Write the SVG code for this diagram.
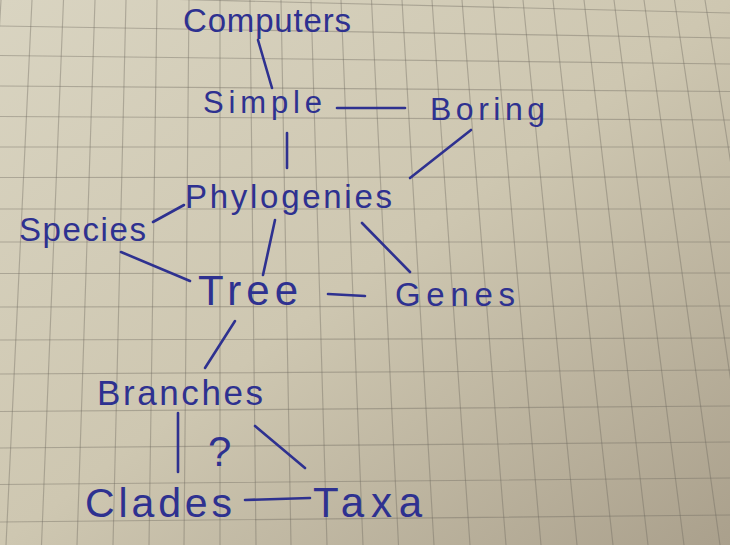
<svg xmlns="http://www.w3.org/2000/svg" width="730" height="545" viewBox="0 0 730 545">
<defs>
<linearGradient id="paper" x1="0" y1="0" x2="1" y2="1">
<stop offset="0" stop-color="#d9d4c1"/>
<stop offset="0.5" stop-color="#cec7b1"/>
<stop offset="1" stop-color="#aaa08c"/>
</linearGradient>
<style>
.grid{stroke:#6f6a60;stroke-opacity:0.4;stroke-width:1.15;fill:none}
.ink{fill:#2e3190;font-family:"Liberation Sans","DejaVu Sans",sans-serif}
.edge{stroke:#2e3190;stroke-width:2.6;stroke-linecap:round;fill:none}
</style>
</defs>
<rect width="730" height="545" fill="url(#paper)"/>
<g id="grid" class="grid">
<path d="M1,0L-30,545M32,0L6,545M63.5,0L41.5,545M95,0L77,545M126,0L113,545M157,0L149,545M189,0L184,545M220,0L220,545M250,0L256,545M281,0L291,545M311,0L327,545M341,0L363,545M371.5,0L398.5,545M402,0L434,545M432,0L470,545M462,0L506,545M493,0L541,545M523,0L577,545M553,0L613,545M584,0L648,545M614,0L684,545M644,0L720,545M674.5,0L755,545M705,0L791,545M735,0L827,545"/>
<path d="M0,-5L730,13M0,26L730,38M0,55.5L730,64M0,86L730,91.5M0,116.5L730,120M0,147L730,147M0,177.5L730,177M0,209L730,209M0,242L730,242M0,273.5L730,273M0,307L730,306M0,340L730,338M0,374L730,370M0,411.5L730,406M0,448L730,442M0,484.5L730,478M0,522L730,515M0,560L730,552"/>
</g>
<g id="connectors" class="edge">
<line x1="258" y1="40" x2="272" y2="88"/>
<line x1="337" y1="108" x2="405" y2="108"/>
<line x1="287" y1="133" x2="287" y2="168"/>
<line x1="471" y1="130" x2="410" y2="178"/>
<line x1="153" y1="222" x2="184" y2="205"/>
<line x1="121" y1="252" x2="190" y2="281"/>
<line x1="275" y1="220" x2="263" y2="275"/>
<line x1="362" y1="223" x2="410" y2="272"/>
<line x1="328" y1="294" x2="365" y2="296"/>
<line x1="235" y1="321" x2="205" y2="368"/>
<line x1="178" y1="413" x2="178" y2="472"/>
<line x1="255" y1="426" x2="305" y2="468"/>
<line x1="245" y1="500" x2="310" y2="498"/>
</g>
<g id="computers"><text class="ink" x="183" y="32" font-size="33" textLength="168" lengthAdjust="spacing">Computers</text></g>
<g id="simple"><text class="ink" x="203" y="113" font-size="31" textLength="119" lengthAdjust="spacing">Simple</text></g>
<g id="boring"><text class="ink" x="430" y="120" font-size="32" textLength="115" lengthAdjust="spacing">Boring</text></g>
<g id="phylogenies"><text class="ink" x="185" y="208" font-size="33" textLength="207" lengthAdjust="spacing">Phylogenies</text></g>
<g id="species"><text class="ink" x="19" y="241" font-size="33" textLength="127" lengthAdjust="spacing">Species</text></g>
<g id="tree"><text class="ink" x="198" y="305" font-size="42" textLength="100" lengthAdjust="spacing">Tree</text></g>
<g id="genes"><text class="ink" x="395" y="306" font-size="33" textLength="120" lengthAdjust="spacing">Genes</text></g>
<g id="branches"><text class="ink" x="97" y="405" font-size="35" textLength="166" lengthAdjust="spacing">Branches</text></g>
<g id="question"><text class="ink" x="208" y="466" font-size="42">?</text></g>
<g id="clades"><text class="ink" x="85" y="517" font-size="41" textLength="147" lengthAdjust="spacing">Clades</text></g>
<g id="taxa"><text class="ink" x="313" y="517" font-size="42" textLength="109" lengthAdjust="spacing">Taxa</text></g>
</svg>
